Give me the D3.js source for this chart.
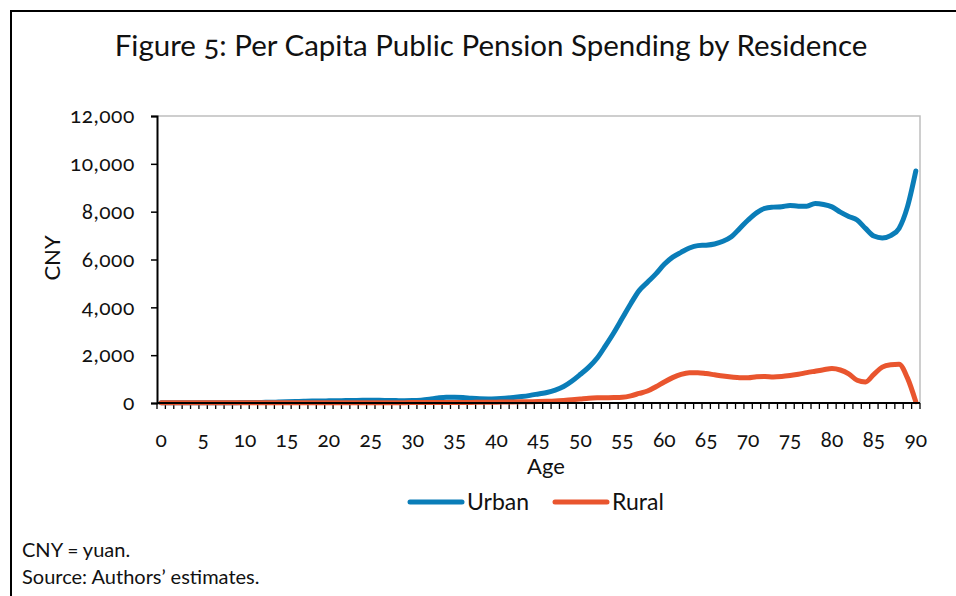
<!DOCTYPE html>
<html><head><meta charset="utf-8">
<script src="https://cdn.jsdelivr.net/npm/d3@7"></script>
<style>
body{margin:0;background:#fff;}
svg{display:block;font-family:Lato,"Open Sans",sans-serif;}
svg text{font-variant-numeric:oldstyle-nums;font-feature-settings:"onum" 1;}
</style></head>
<body><svg id="c" width="956" height="596"></svg>
<script>
const ages = d3.range(0, 91);
const xTickLabels = [0,5,10,15,20,25,30,35,40,45,50,55,60,65,70,75,80,85,90];
const yTicks = [0,2000,4000,6000,8000,10000,12000];
const urban = [15,15,15,15,15,15,15,15,15,15,
  20,20,25,30,40,50,60,70,80,85,
  90,95,100,105,110,110,110,105,100,95,
  100,120,160,210,240,240,225,195,175,170,
  180,200,230,270,320,380,440,540,690,920,
  1200,1500,1880,2400,2950,3550,4150,4700,5050,5400,
  5800,6100,6300,6480,6580,6600,6650,6760,6950,7300,
  7650,7950,8140,8190,8210,8260,8230,8230,8340,8300,
  8200,7980,7800,7650,7300,6980,6900,7000,7300,8200,
  9700];
const rural = [10,10,10,10,10,10,10,10,10,10,
  10,10,10,10,10,10,10,10,10,10,
  15,15,15,15,15,15,15,15,15,15,
  20,20,20,20,25,25,25,25,30,30,
  35,40,45,50,55,60,70,85,110,140,
  170,200,215,220,225,240,300,400,500,680,
  880,1060,1200,1270,1270,1230,1180,1130,1090,1060,
  1060,1100,1110,1090,1110,1150,1200,1270,1330,1390,
  1440,1380,1220,950,880,1200,1500,1600,1620,1050,
  50];
const seriesNames = ["Urban","Rural"];
const colors = ["#0A7DB8","#E9552E"];

const svg = d3.select("#c");
// outer frame
svg.append("rect").attr("x",11).attr("y",11).attr("width",960).attr("height",620)
  .attr("fill","none").attr("stroke","#000").attr("stroke-width",2);

svg.append("text").attr("x",491).attr("y",56).attr("text-anchor","middle")
  .attr("font-size",29.5).attr("fill","#111")
  .text("Figure 5: Per Capita Public Pension Spending by Residence");

const L=157, R=920, T=116, B=403;
const x = d3.scaleBand().domain(ages).range([L,R]);
const y = d3.scaleLinear().domain([0,12000]).range([B,T]);

// plot border (top/right)
svg.append("path").attr("d",`M${L},${T}H${R}V${B}`).attr("fill","none")
  .attr("stroke","#BFBFBF").attr("stroke-width",1.5);

// y axis
const yAxis = d3.axisLeft(y).tickValues(yTicks).tickSize(6).tickPadding(16)
  .tickFormat(d3.format(","));
const gy = svg.append("g").attr("transform",`translate(${L},0)`).call(yAxis)
  .attr("font-family","Lato,sans-serif").attr("font-size",21);
gy.select(".domain").attr("stroke","#000").attr("stroke-width",2);
gy.selectAll(".tick line").attr("stroke","#000").attr("stroke-width",1.5);
gy.selectAll(".tick text").attr("fill","#111").attr("letter-spacing",0.6);

// x axis ticks at band boundaries
const boundaries = ages.map(a=>x(a)).concat([R]);
svg.append("g").selectAll("line").data(boundaries).join("line")
  .attr("x1",d=>d).attr("x2",d=>d).attr("y1",B).attr("y2",B+6)
  .attr("stroke","#000").attr("stroke-width",1.3);
svg.append("g").selectAll("text").data(xTickLabels).join("text")
  .attr("x",d=>x(d)+x.bandwidth()/2).attr("y",447).attr("text-anchor","middle")
  .attr("font-size",21).attr("fill","#111").text(d=>d);

svg.append("text").attr("x",546).attr("y",474).attr("text-anchor","middle")
  .attr("font-size",22).attr("fill","#111").text("Age");
svg.append("text").attr("transform","translate(60,258) rotate(-90)").attr("text-anchor","middle")
  .attr("font-size",22).attr("fill","#111").text("CNY");

// lines
const line = d3.line().x((d,i)=>x(ages[i])+x.bandwidth()/2).y(d=>y(d)).curve(d3.curveMonotoneX);
[urban, rural].forEach((s,k)=>{
  svg.append("path").datum(s).attr("d",line).attr("fill","none")
    .attr("stroke",colors[k]).attr("stroke-width",5)
    .attr("stroke-linejoin","round").attr("stroke-linecap","round");
});

svg.append("path").attr("d",`M${L},${B}H${R}`).attr("stroke","#000").attr("stroke-width",2);

// legend
const legX = [410, 555];
seriesNames.forEach((n,k)=>{
  svg.append("line").attr("x1",legX[k]).attr("x2",legX[k]+52).attr("y1",502).attr("y2",502)
    .attr("stroke",colors[k]).attr("stroke-width",5).attr("stroke-linecap","round");
  svg.append("text").attr("x",legX[k]+57).attr("y",510).attr("font-size",23).attr("fill","#111").text(n);
});

svg.append("text").attr("x",22).attr("y",557).attr("font-size",20).attr("fill","#111").text("CNY = yuan.");
svg.append("text").attr("x",22).attr("y",584).attr("font-size",20).attr("fill","#111").text("Source: Authors\u2019 estimates.");
</script></body></html>
